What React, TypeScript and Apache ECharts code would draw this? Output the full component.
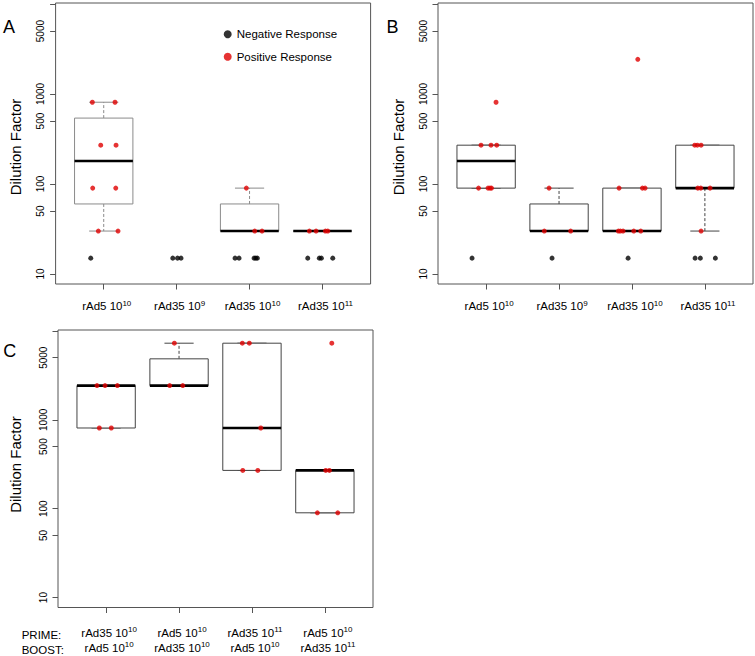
import React, { useEffect, useRef } from 'react';
import * as echarts from 'echarts';

const FONT = '"Liberation Sans", Arial, Helvetica, sans-serif';

// ---- axes ----
const yTicks = [10, 50, 100, 500, 1000, 5000, 10000];
const yLabels = [10, 50, 100, 500, 1000, 5000];
const Y_MIN = 7.74;
const Y_MAX = 10260;
const X_MIN = 0.34;
const X_MAX = 4.66;
const xTicks = [1, 2, 3, 4];

// ---- category labels ----
const catVectors = ['rAd5', 'rAd35', 'rAd35', 'rAd35'];
const catExps = ['10', '9', '10', '11'];
const primeVectors = ['rAd35', 'rAd5', 'rAd35', 'rAd5'];
const primeExps = ['10', '10', '11', '10'];
const boostVectors = ['rAd5', 'rAd35', 'rAd5', 'rAd35'];
const boostExps = ['10', '10', '10', '11'];

// ---- panel A data: [jittered position, dilution] ----
const posA = [
  [0.844, 810], [1.155, 810], [0.959, 270], [1.169, 270],
  [0.849, 90], [1.165, 90], [0.926, 30], [1.196, 30],
  [2.956, 90], [3.071, 30], [3.171, 30],
  [3.82, 30], [3.912, 30], [4.04, 30], [4.073, 30],
];
const negA = [
  [0.822, 15],
  [1.947, 15], [2.012, 15], [2.06, 15],
  [2.801, 15], [2.856, 15], [3.062, 15], [3.085, 15], [3.107, 15],
  [3.798, 15], [3.957, 15], [3.985, 15], [4.141, 15],
];
// [position, min, lower hinge, median, upper hinge, max]
const boxA = [
  [1, 30, 60, 180, 540, 810],
  [3, 30, 30, 30, 60, 90],
  [4, 30, 30, 30, 30, 30],
];

// ---- panel B data ----
const posB = [
  [1.136, 810], [0.93, 270], [1.067, 270], [1.145, 270],
  [0.896, 90], [1.026, 90], [1.053, 90], [1.074, 90],
  [1.863, 90], [1.798, 30], [2.16, 30],
  [3.08, 2430], [2.823, 90], [3.143, 90], [3.18, 90],
  [2.813, 30], [2.841, 30], [2.878, 30], [3.025, 30], [3.121, 30],
  [3.861, 270], [3.897, 270], [3.948, 270],
  [3.903, 90], [3.944, 90], [4.071, 90], [3.948, 30],
];
const negB = [
  [0.807, 15], [1.904, 15], [2.947, 15],
  [3.866, 15], [3.938, 15], [4.144, 15],
];
const boxB = [
  [1, 90, 90, 180, 270, 270],
  [2, 30, 30, 30, 60, 90],
  [3, 30, 30, 30, 90, 90],
  [4, 30, 90, 90, 270, 270],
];

// ---- panel C data ----
const posC = [
  [0.875, 2430], [0.985, 2430], [1.154, 2430], [0.907, 810], [1.071, 810],
  [1.936, 7290], [1.872, 2430], [2.051, 2430],
  [2.868, 7290], [2.964, 7290], [3.121, 810], [2.874, 270], [3.08, 270],
  [4.095, 7290], [4.012, 270], [4.062, 270], [3.897, 90], [4.177, 90],
];
const negC: number[][] = [];
const boxC = [
  [1, 810, 810, 2430, 2430, 2430],
  [2, 2430, 2430, 2430, 4860, 7290],
  [3, 270, 270, 810, 7290, 7290],
  [4, 90, 90, 270, 270, 270],
];

const RED = '#e00000';
const BLACK = '#000000';

function sup(v: string, e: string) {
  return `${v} 10{s|${e}}`;
}

function makeBoxRender(stroke: string) {
  return (params: any, api: any) => {
    const p = api.value(0);
    const mn = api.value(1);
    const q1 = api.value(2);
    const md = api.value(3);
    const q3 = api.value(4);
    const mx = api.value(5);
    const l = api.coord([p - 0.4, md])[0];
    const r = api.coord([p + 0.4, md])[0];
    const cl = api.coord([p - 0.2, md])[0];
    const cr = api.coord([p + 0.2, md])[0];
    const cx = api.coord([p, md])[0];
    const yMn = api.coord([p, mn])[1];
    const yQ1 = api.coord([p, q1])[1];
    const yMd = api.coord([p, md])[1];
    const yQ3 = api.coord([p, q3])[1];
    const yMx = api.coord([p, mx])[1];
    const thin = { stroke, lineWidth: 1, fill: 'none' };
    const dash = { stroke, lineWidth: 1, lineDash: [3, 2] };
    return {
      type: 'group',
      children: [
        { type: 'line', shape: { x1: cx, y1: yQ3, x2: cx, y2: yMx }, style: dash },
        { type: 'line', shape: { x1: cx, y1: yQ1, x2: cx, y2: yMn }, style: dash },
        { type: 'line', shape: { x1: cl, y1: yMx, x2: cr, y2: yMx }, style: thin },
        { type: 'line', shape: { x1: cl, y1: yMn, x2: cr, y2: yMn }, style: thin },
        { type: 'rect', shape: { x: l, y: yQ3, width: r - l, height: yQ1 - yQ3 }, style: { stroke, lineWidth: 1, fill: '#ffffff' } },
        { type: 'line', shape: { x1: l, y1: yMd, x2: r, y2: yMd }, style: { stroke: '#000', lineWidth: 2.6 } },
      ],
    };
  };
}

const App: React.FC = () => {
  const ref = useRef<HTMLDivElement>(null);
  useEffect(() => {
    if (!ref.current) return;
    const chart = echarts.init(ref.current, null, { renderer: 'svg' });

    const grids = [
      { left: 55.6, top: 3, width: 315, height: 281 },
      { left: 438, top: 3, width: 315, height: 281 },
      { left: 58, top: 330, width: 315, height: 281 },
    ];
    const frame = '#555';
    const richSup = {
      s: { fontSize: 8, verticalAlign: 'top', lineHeight: 8, fontFamily: FONT, color: '#000' },
    };
    const xAxes = grids.map((_, i) => ({
      type: 'value',
      gridIndex: i,
      min: X_MIN,
      max: X_MAX,
      axisLine: { show: false },
      splitLine: { show: false },
      axisTick: { show: true, customValues: xTicks, length: 5.5, lineStyle: { color: frame } },
      axisLabel: {
        customValues: xTicks,
        margin: i === 2 ? 17.5 : 15,
        fontSize: 11.5,
        fontFamily: FONT,
        color: '#000',
        lineHeight: i === 2 ? 15.5 : 14,
        padding: [0, 0, 0, 6],
        rich: richSup,
        formatter: (v: number) => {
          const k = Math.round(v) - 1;
          if (i === 2) {
            return `${sup(primeVectors[k], primeExps[k])}\n${sup(boostVectors[k], boostExps[k])}`;
          }
          return sup(catVectors[k], catExps[k]);
        },
      },
    }));
    const yAxes = grids.map((_, i) => ({
      type: 'log',
      logBase: 10,
      gridIndex: i,
      min: Y_MIN,
      max: Y_MAX,
      axisLine: { show: false },
      splitLine: { show: false },
      minorTick: { show: false },
      axisTick: { show: true, customValues: yTicks, length: 5.5, lineStyle: { color: frame } },
      axisLabel: {
        customValues: yLabels,
        rotate: 90,
        margin: 10,
        fontSize: 10,
        fontFamily: FONT,
        color: '#000',
        formatter: (v: number) => String(Math.round(v)),
      },
    }));

    const panels = [
      { pos: posA, neg: negA, box: boxA, stroke: '#8a8a8a' },
      { pos: posB, neg: negB, box: boxB, stroke: '#444' },
      { pos: posC, neg: negC, box: boxC, stroke: '#444' },
    ];
    const series: any[] = [];
    panels.forEach((pnl, i) => {
      series.push({
        type: 'custom',
        name: 'box' + i,
        xAxisIndex: i,
        yAxisIndex: i,
        silent: true,
        clip: false,
        z: 2,
        dimensions: ['pos', 'min', 'q1', 'median', 'q3', 'max'],
        encode: { x: 0, y: [1, 2, 3, 4, 5] },
        data: pnl.box,
        renderItem: makeBoxRender(pnl.stroke),
      });
      series.push({
        type: 'scatter',
        name: 'Negative Response',
        xAxisIndex: i,
        yAxisIndex: i,
        silent: true,
        z: 5,
        symbol: 'circle',
        symbolSize: 5,
        itemStyle: { color: BLACK },
        data: pnl.neg,
      });
      series.push({
        type: 'scatter',
        name: 'Positive Response',
        xAxisIndex: i,
        yAxisIndex: i,
        silent: true,
        z: 6,
        symbol: 'circle',
        symbolSize: 5,
        itemStyle: { color: RED },
        data: pnl.pos,
      });
    });

    const title = (x: number, y: number) => ({
      type: 'text',
      x,
      y,
      rotation: Math.PI / 2,
      style: {
        text: 'Dilution Factor',
        fontSize: 15,
        fontFamily: FONT,
        fill: '#000',
        textAlign: 'center',
        textVerticalAlign: 'middle',
      },
    });
    const letter = (t: string, x: number, y: number) => ({
      type: 'text',
      x,
      y,
      style: {
        text: t,
        fontSize: 18,
        fontFamily: FONT,
        fill: '#000',
        textAlign: 'center',
        textVerticalAlign: 'middle',
      },
    });
    const rowLabel = (t: string, y: number) => ({
      type: 'text',
      x: 21.7,
      y,
      style: {
        text: t,
        fontSize: 11.5,
        fontFamily: FONT,
        fill: '#000',
        textAlign: 'left',
        textVerticalAlign: 'middle',
      },
    });

    chart.setOption({
      animation: false,
      backgroundColor: '#ffffff',
      textStyle: { fontFamily: FONT },
      grid: grids.map((g) => ({ ...g, show: true, borderColor: frame, borderWidth: 1, backgroundColor: 'transparent' })),
      xAxis: xAxes,
      yAxis: yAxes,
      legend: {
        show: true,
        orient: 'vertical',
        left: 223.7,
        top: 27.3,
        padding: 0,
        itemGap: 8.4,
        itemWidth: 8,
        itemHeight: 8,
        icon: 'circle',
        selectedMode: false,
        textStyle: { fontSize: 11.5, fontFamily: FONT, color: '#000', lineHeight: 14 },
        data: ['Negative Response', 'Positive Response'],
      },
      graphic: [
        letter('A', 9, 26.5),
        letter('B', 392.5, 27),
        letter('C', 9.7, 350.5),
        title(15.5, 147),
        title(398, 147),
        title(15.8, 464.5),
        rowLabel('PRIME:', 634.5),
        rowLabel('BOOST:', 650),
      ],
      series,
    });
    return () => chart.dispose();
  }, []);
  return <div ref={ref} style={{ position: 'absolute', left: 0, top: 0, width: 755, height: 656 }} />;
};

export default App;
